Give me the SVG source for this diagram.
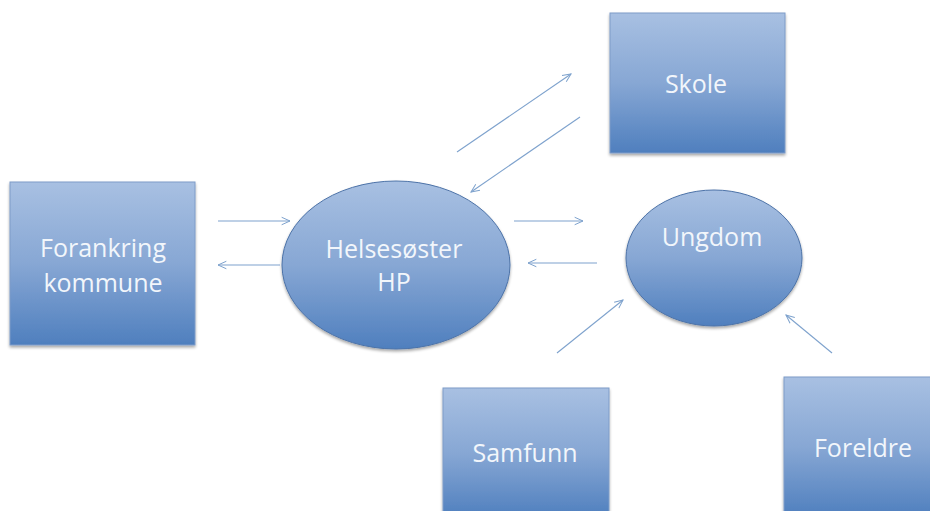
<svg xmlns="http://www.w3.org/2000/svg" width="930" height="511" viewBox="0 0 930 511">
  <defs>
    <linearGradient id="g" x1="0" y1="0" x2="0" y2="1">
      <stop offset="0" stop-color="#a8c0e2"/>
      <stop offset="0.5" stop-color="#87a7d4"/>
      <stop offset="1" stop-color="#4f7fbe"/>
    </linearGradient>
    <filter id="sh" x="-10%" y="-10%" width="130%" height="130%">
      <feGaussianBlur in="SourceAlpha" stdDeviation="1.5"/>
      <feOffset dx="0" dy="2" result="b"/>
      <feComponentTransfer><feFuncA type="linear" slope="0.35"/></feComponentTransfer>
      <feMerge><feMergeNode/><feMergeNode in="SourceGraphic"/></feMerge>
    </filter>
    <marker id="ah" viewBox="0 0 12 12" refX="11" refY="6" markerWidth="10" markerHeight="10" markerUnits="userSpaceOnUse" orient="auto">
      <path d="M1,1.5 L11,6 L1,10.5" fill="none" stroke="#7ea2cd" stroke-width="1.2"/>
    </marker>
  </defs>
  <style>
    .box { fill: url(#g); stroke: #7e9cc8; stroke-width: 1; filter: url(#sh); }
    .ell { fill: url(#g); stroke: #4d73a8; stroke-width: 1; filter: url(#sh); }
    .lbl { font-family: "Open Sans", "Liberation Sans", sans-serif; font-size: 25px; fill: #f2f6fb; text-anchor: middle; }
    .arr { stroke: #7ea2cd; stroke-width: 1.1; fill: none; marker-end: url(#ah); }
  </style>
  <rect width="930" height="511" fill="#ffffff"/>

  <g id="connectors">
    <line class="arr" x1="218" y1="221" x2="290" y2="221"/>
    <line class="arr" x1="280" y1="265" x2="218" y2="265"/>
    <line class="arr" x1="514" y1="221" x2="583" y2="221"/>
    <line class="arr" x1="597" y1="263" x2="528" y2="263"/>
    <line class="arr" x1="457" y1="152" x2="571" y2="74"/>
    <line class="arr" x1="580" y1="117" x2="471" y2="192"/>
    <line class="arr" x1="557" y1="353" x2="623" y2="300"/>
    <line class="arr" x1="832" y1="353" x2="786" y2="315"/>
  </g>

  <g id="forankring">
    <rect class="box" x="10" y="182" width="185" height="163"/>
    <text class="lbl" x="103" y="257">Forankring</text>
    <text class="lbl" x="103" y="292">kommune</text>
  </g>

  <g id="helsesoster">
    <ellipse class="ell" cx="396" cy="265" rx="114" ry="84"/>
    <text class="lbl" x="394" y="258">Helsesøster</text>
    <text class="lbl" x="394" y="291">HP</text>
  </g>

  <g id="skole">
    <rect class="box" x="610" y="13" width="175" height="140"/>
    <text class="lbl" x="696" y="93">Skole</text>
  </g>

  <g id="ungdom">
    <ellipse class="ell" cx="714" cy="258" rx="88" ry="68"/>
    <text class="lbl" x="712" y="246">Ungdom</text>
  </g>

  <g id="samfunn">
    <rect class="box" x="443" y="388" width="166" height="130"/>
    <text class="lbl" x="525" y="462">Samfunn</text>
  </g>

  <g id="foreldre">
    <rect class="box" x="784" y="377" width="160" height="140"/>
    <text class="lbl" x="863" y="457">Foreldre</text>
  </g>
</svg>
